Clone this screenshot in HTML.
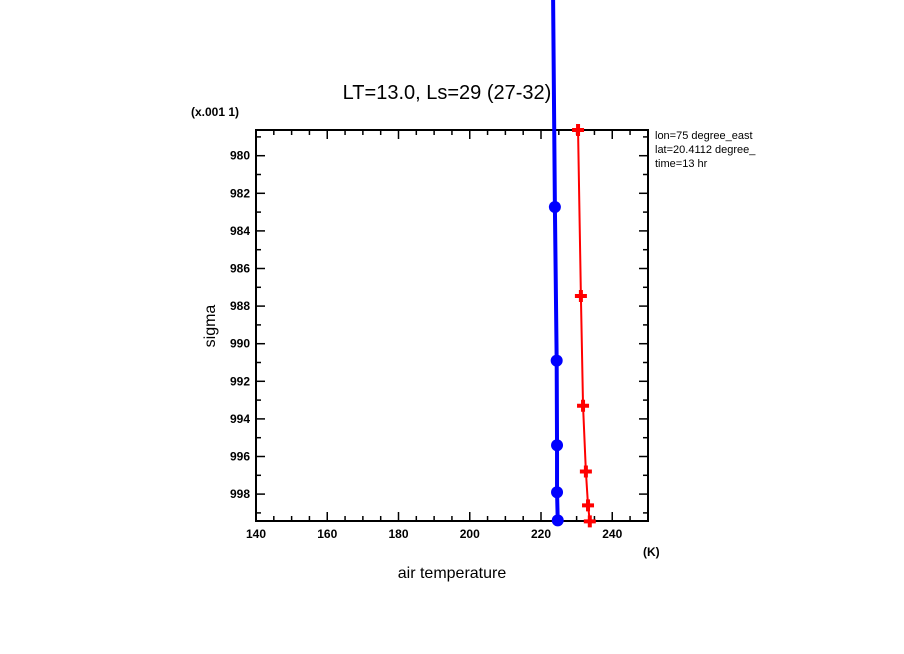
<!DOCTYPE html>
<html><head><meta charset="utf-8"><style>
html,body{margin:0;padding:0;background:#fff;}
svg{display:block;font-family:"Liberation Sans",sans-serif;}
</style></head><body>
<svg id="chart" width="904" height="654" viewBox="0 0 904 654" xmlns="http://www.w3.org/2000/svg">
<text x="447" y="99" font-size="20" text-anchor="middle">LT=13.0, Ls=29 (27-32)</text>
<text x="191" y="116" font-size="12" font-weight="bold">(x.001 1)</text>
<text x="655" y="139" font-size="11">lon=75 degree_east</text>
<text x="655" y="153" font-size="11">lat=20.4112 degree_</text>
<text x="655" y="167" font-size="11">time=13 hr</text>
<text x="452" y="578" font-size="16" text-anchor="middle">air temperature</text>
<text x="643" y="556" font-size="12" font-weight="bold">(K)</text>
<text x="215" y="326" font-size="16" text-anchor="middle" transform="rotate(-90 215 326)">sigma</text>
<g id="axes"></g>
<g id="series"></g>
</svg>
<script>
const xTicks=[140,160,180,200,220,240];
const yTicks=[980,982,984,986,988,990,992,994,996,998];
const blueSigma=[971.7,982.73,990.9,995.4,997.9,999.4];
const blueTemp=[223.4,223.9,224.4,224.5,224.5,224.7];
const blueMarker=[false,true,true,true,true,true];
const redSigma=[978.63,987.46,993.3,996.8,998.6,999.45];
const redTemp=[230.4,231.2,231.8,232.6,233.2,233.7];

const L=256,R=648,T=130,B=521;
function xs(v){return L+(v-140)*3.5625;}
function ys(s){return 155.7+(s-980)*18.8;}
const NS="http://www.w3.org/2000/svg";
function mk(tag,attrs,parent){const e=document.createElementNS(NS,tag);for(const k in attrs)e.setAttribute(k,attrs[k]);parent.appendChild(e);return e;}
const ax=document.getElementById('axes');
const fr=mk('rect',{x:L,y:T,width:R-L,height:B-T,fill:'none',stroke:'#000','stroke-width':2},ax);


// x minor/major ticks
for(let v=140;v<=250;v+=5){
  const x=xs(v);if(x>R)break;
  const len=(v%20===0)?9:5;
  const t1=mk('line',{x1:x,y1:B,x2:x,y2:B-len,stroke:'#000','stroke-width':1.5},ax);
  
  
  const t2=mk('line',{x1:x,y1:T,x2:x,y2:T+len,stroke:'#000','stroke-width':1.5},ax);
  
  
}
xTicks.forEach(v=>{
  const t=mk('text',{x:xs(v),y:538,'font-size':12,'font-weight':'bold','text-anchor':'middle'},ax);
  t.textContent=v;
  
  
});
for(let s=979;s<=999;s+=1){
  const y=ys(s);
  const len=(s%2===0)?9:5;
  const t1=mk('line',{x1:L,y1:y,x2:L+len,y2:y,stroke:'#000','stroke-width':1.5},ax);
  
  
  const t2=mk('line',{x1:R,y1:y,x2:R-len,y2:y,stroke:'#000','stroke-width':1.5},ax);
  
  
}
yTicks.forEach(s=>{
  const t=mk('text',{x:250,y:ys(s)+4,'font-size':12,'font-weight':'bold','text-anchor':'end'},ax);
  t.textContent=s;
  
  
});
const se=document.getElementById('series');
const bp=blueSigma.map((s,i)=>xs(blueTemp[i])+','+ys(s)).join(' ');
const bl=mk('polyline',{points:bp,fill:'none',stroke:'#0000ff','stroke-width':4},se);


blueSigma.forEach((s,i)=>{
  if(!blueMarker[i])return;
  const c=mk('circle',{cx:xs(blueTemp[i]),cy:ys(s),r:6,fill:'#0000ff'},se);
  
  
});
const rp=redSigma.map((s,i)=>xs(redTemp[i])+','+ys(s)).join(' ');
const rl=mk('polyline',{points:rp,fill:'none',stroke:'#ff0000','stroke-width':2},se);


redSigma.forEach((s,i)=>{
  const x=xs(redTemp[i]),y=ys(s);
  const p=mk('path',{d:`M${x-6},${y-2}h4v-4h4v4h4v4h-4v4h-4v-4h-4z`,fill:'#ff0000'},se);
  
  
});
</script>
</body></html>
